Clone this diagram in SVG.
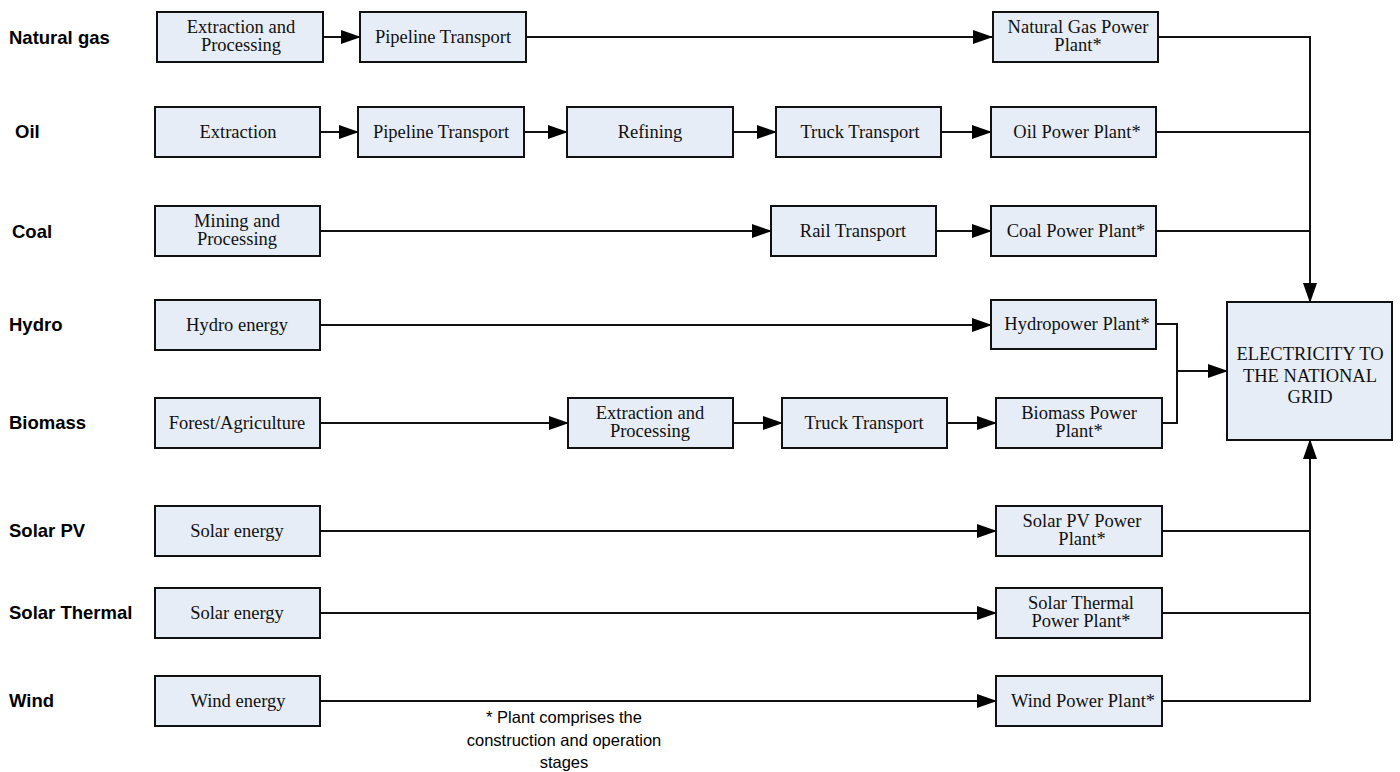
<svg xmlns="http://www.w3.org/2000/svg" width="1400" height="772" viewBox="0 0 1400 772">
<style>
.bg{fill:#ffffff}
.box{fill:#e7edf7;stroke:#111;stroke-width:2}
.t{font-family:"Liberation Serif","Times New Roman",serif;font-size:18.5px;fill:#111;text-anchor:middle}
.lbl{font-family:"Liberation Sans",Arial,sans-serif;font-size:18.5px;font-weight:bold;fill:#000}
.note{font-family:"Liberation Sans",Arial,sans-serif;font-size:16.5px;fill:#000;text-anchor:middle}
.c{fill:none;stroke:#111;stroke-width:2}
</style>
<defs>
<marker id="ah" markerUnits="userSpaceOnUse" markerWidth="20" markerHeight="14" refX="19" refY="7" orient="auto">
<path d="M0,0 L20,7 L0,14 z" fill="#000"/>
</marker>
</defs>
<rect class="bg" x="0" y="0" width="1400" height="772"/>

<g id="labels">
<text class="lbl" x="9" y="44">Natural gas</text>
<text class="lbl" x="15" y="138">Oil</text>
<text class="lbl" x="12" y="238">Coal</text>
<text class="lbl" x="9" y="331">Hydro</text>
<text class="lbl" x="9" y="429">Biomass</text>
<text class="lbl" x="9" y="537">Solar PV</text>
<text class="lbl" x="9" y="619">Solar Thermal</text>
<text class="lbl" x="9" y="707">Wind</text>
</g>

<g id="connectors">
<!-- row 1 -->
<line class="c" x1="323" y1="37" x2="360" y2="37" marker-end="url(#ah)"/>
<line class="c" x1="526" y1="37" x2="992" y2="37" marker-end="url(#ah)"/>
<path class="c" d="M1158,37 H1310 V302" marker-end="url(#ah)"/>
<!-- row 2 -->
<line class="c" x1="320" y1="132" x2="358" y2="132" marker-end="url(#ah)"/>
<line class="c" x1="524" y1="132" x2="567" y2="132" marker-end="url(#ah)"/>
<line class="c" x1="733" y1="132" x2="776" y2="132" marker-end="url(#ah)"/>
<line class="c" x1="941" y1="132" x2="991" y2="132" marker-end="url(#ah)"/>
<line class="c" x1="1156" y1="132" x2="1310" y2="132"/>
<!-- row 3 -->
<line class="c" x1="320" y1="231" x2="771" y2="231" marker-end="url(#ah)"/>
<line class="c" x1="936" y1="231" x2="991" y2="231" marker-end="url(#ah)"/>
<line class="c" x1="1156" y1="231" x2="1310" y2="231"/>
<!-- row 4 -->
<line class="c" x1="320" y1="325" x2="991" y2="325" marker-end="url(#ah)"/>
<path class="c" d="M1156,324 H1177 V423 H1162"/>
<line class="c" x1="1177" y1="371" x2="1227" y2="371" marker-end="url(#ah)"/>
<!-- row 5 -->
<line class="c" x1="320" y1="423" x2="568" y2="423" marker-end="url(#ah)"/>
<line class="c" x1="733" y1="423" x2="782" y2="423" marker-end="url(#ah)"/>
<line class="c" x1="947" y1="423" x2="996" y2="423" marker-end="url(#ah)"/>
<!-- row 6-8 -->
<line class="c" x1="320" y1="531" x2="996" y2="531" marker-end="url(#ah)"/>
<line class="c" x1="320" y1="613" x2="996" y2="613" marker-end="url(#ah)"/>
<line class="c" x1="320" y1="701" x2="996" y2="701" marker-end="url(#ah)"/>
<line class="c" x1="1162" y1="531" x2="1310" y2="531"/>
<line class="c" x1="1162" y1="613" x2="1310" y2="613"/>
<path class="c" d="M1162,701 H1310 V440" marker-end="url(#ah)"/>
</g>

<g id="ng-extraction"><rect class="box" x="157" y="12" width="166" height="50"/><text class="t" x="241" y="33">Extraction and</text><text class="t" x="241" y="51">Processing</text></g>
<g id="ng-pipeline"><rect class="box" x="360" y="12" width="166" height="50"/><text class="t" x="443" y="43">Pipeline Transport</text></g>
<g id="ng-plant"><rect class="box" x="993" y="12" width="165" height="50"/><text class="t" x="1078" y="33">Natural Gas Power</text><text class="t" x="1078" y="51">Plant*</text></g>

<g id="oil-extraction"><rect class="box" x="155" y="107" width="165" height="50"/><text class="t" x="238" y="138">Extraction</text></g>
<g id="oil-pipeline"><rect class="box" x="358" y="107" width="166" height="50"/><text class="t" x="441" y="138">Pipeline Transport</text></g>
<g id="oil-refining"><rect class="box" x="567" y="107" width="166" height="50"/><text class="t" x="650" y="138">Refining</text></g>
<g id="oil-truck"><rect class="box" x="776" y="107" width="165" height="50"/><text class="t" x="860" y="138">Truck Transport</text></g>
<g id="oil-plant"><rect class="box" x="991" y="107" width="165" height="50"/><text class="t" x="1077" y="138">Oil Power Plant*</text></g>

<g id="coal-mining"><rect class="box" x="155" y="206" width="165" height="50"/><text class="t" x="237" y="227">Mining and</text><text class="t" x="237" y="245">Processing</text></g>
<g id="coal-rail"><rect class="box" x="771" y="206" width="165" height="50"/><text class="t" x="853" y="237">Rail Transport</text></g>
<g id="coal-plant"><rect class="box" x="991" y="206" width="165" height="50"/><text class="t" x="1076" y="237">Coal Power Plant*</text></g>

<g id="hydro-energy"><rect class="box" x="155" y="300" width="165" height="50"/><text class="t" x="237" y="331">Hydro energy</text></g>
<g id="hydro-plant"><rect class="box" x="991" y="300" width="165" height="49"/><text class="t" x="1077" y="330">Hydropower Plant*</text></g>

<g id="bio-forest"><rect class="box" x="155" y="398" width="165" height="50"/><text class="t" x="237" y="429">Forest/Agriculture</text></g>
<g id="bio-extraction"><rect class="box" x="568" y="398" width="165" height="50"/><text class="t" x="650" y="419">Extraction and</text><text class="t" x="650" y="437">Processing</text></g>
<g id="bio-truck"><rect class="box" x="782" y="398" width="165" height="50"/><text class="t" x="864" y="429">Truck Transport</text></g>
<g id="bio-plant"><rect class="box" x="996" y="398" width="166" height="50"/><text class="t" x="1079" y="419">Biomass Power</text><text class="t" x="1079" y="437">Plant*</text></g>

<g id="grid"><rect class="box" x="1227" y="302" width="165" height="138"/><text class="t" x="1310" y="360">ELECTRICITY TO</text><text class="t" x="1310" y="382">THE NATIONAL</text><text class="t" x="1310" y="403">GRID</text></g>

<g id="pv-energy"><rect class="box" x="155" y="506" width="165" height="50"/><text class="t" x="237" y="537">Solar energy</text></g>
<g id="pv-plant"><rect class="box" x="996" y="506" width="166" height="50"/><text class="t" x="1082" y="527">Solar PV Power</text><text class="t" x="1082" y="545">Plant*</text></g>

<g id="st-energy"><rect class="box" x="155" y="588" width="165" height="50"/><text class="t" x="237" y="619">Solar energy</text></g>
<g id="st-plant"><rect class="box" x="996" y="588" width="166" height="50"/><text class="t" x="1081" y="609">Solar Thermal</text><text class="t" x="1081" y="627">Power Plant*</text></g>

<g id="wind-energy"><rect class="box" x="155" y="676" width="165" height="50"/><text class="t" x="238" y="707">Wind energy</text></g>
<g id="wind-plant"><rect class="box" x="996" y="676" width="166" height="50"/><text class="t" x="1083" y="707">Wind Power Plant*</text></g>

<g id="footnote">
<text class="note" x="564" y="723">* Plant comprises the</text>
<text class="note" x="564" y="746">construction and operation</text>
<text class="note" x="564" y="768">stages</text>
</g>
</svg>
